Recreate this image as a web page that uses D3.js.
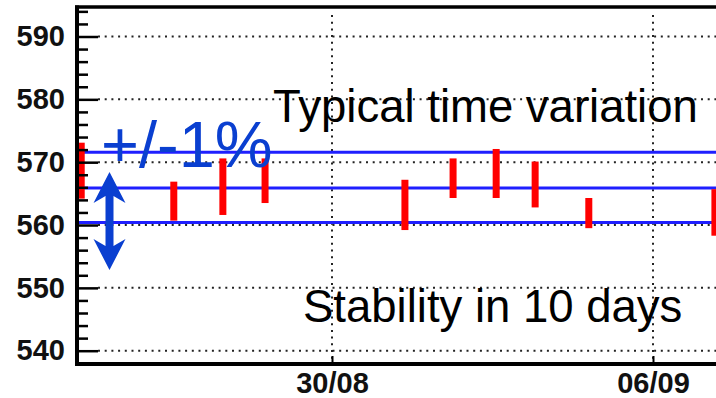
<!DOCTYPE html>
<html>
<head>
<meta charset="utf-8">
<script src="https://cdn.jsdelivr.net/npm/d3@7"></script>
<style>
html,body{margin:0;padding:0;background:#fff;}
svg{display:block;}
</style>
</head>
<body>
<svg id="chart" width="716" height="398"></svg>
<script>
// ---- data ----
const times = [
  "2008-08-24T12:45", "2008-08-26T13:12", "2008-08-27T14:53", "2008-08-28T12:58",
  "2008-08-31T14:10", "2008-09-01T15:22", "2008-09-02T13:55", "2008-09-03T10:19",
  "2008-09-04T14:24", "2008-09-07T08:24"
];
const highValues = [573.1, 566.9, 570.6, 570.6, 567.2, 570.6, 572.1, 570.1, 564.3, 565.7];
const lowValues  = [564.2, 560.7, 561.6, 563.5, 559.2, 564.3, 564.3, 562.8, 559.5, 558.3];
const bandLines = [571.6, 565.9, 560.4];
const yTickValues = [540, 550, 560, 570, 580, 590];
const xTickDates = ["2008-08-30T00:00", "2008-09-06T00:00"];
const xTickLabels = ["30/08", "06/09"];
const annotations = ["Typical time variation", "Stability in 10 days", "+/-1%"];

// ---- scales ----
const parse = d3.timeParse("%Y-%m-%dT%H:%M");
const svg = d3.select("#chart");
const pLeft = 77, pTop = 7, pBottom = 364, pRight = 740;

const x = d3.scaleTime()
  .domain(xTickDates.map(parse))
  .range([332, 653]);
const y = d3.scaleLinear()
  .domain([540, 590])
  .range([350.7, 36.5]);

const fontFam = "'Liberation Sans', Arial, Helvetica, sans-serif";

// ---- grid ----
const grid = svg.append("g").attr("stroke", "#222").attr("stroke-width", 2)
  .attr("stroke-dasharray", "2,4.7");
grid.selectAll("line.h").data(yTickValues).join("line")
  .attr("x1", pLeft + 21).attr("x2", pRight)
  .attr("y1", d => y(d)).attr("y2", d => y(d));
grid.selectAll("line.v").data(xTickDates.map(parse)).join("line")
  .attr("x1", d => x(d)).attr("x2", d => x(d))
  .attr("y1", pTop + 8).attr("y2", pBottom);

// ---- blue band lines ----
svg.append("g").selectAll("line").data(bandLines).join("line")
  .attr("x1", pLeft).attr("x2", pRight)
  .attr("y1", d => y(d)).attr("y2", d => y(d))
  .attr("stroke", "#1f1fff").attr("stroke-width", 3);

// ---- red bars ----
const pts = times.map((t, i) => ({t: parse(t), hi: highValues[i], lo: lowValues[i]}));
svg.append("g").selectAll("rect").data(pts).join("rect")
  .attr("x", d => x(d.t) - 3.5)
  .attr("width", 7)
  .attr("y", d => y(d.hi))
  .attr("height", d => y(d.lo) - y(d.hi))
  .attr("fill", "#ff0000");

// ---- y axis ----
const yMinor = d3.range(538, 595, 2).filter(v => v % 10 !== 0 && y(v) > pTop + 4 && y(v) < pBottom - 2);
const yMinorAxis = d3.axisLeft(y).tickValues(yMinor).tickSize(-11).tickFormat("");
svg.append("g").attr("transform", `translate(${pLeft},0)`).call(yMinorAxis)
  .call(g => g.select(".domain").remove())
  .call(g => g.selectAll("line").attr("stroke", "#000").attr("stroke-width", 2.5));

const yAxis = d3.axisLeft(y).tickValues(yTickValues).tickSize(-21).tickPadding(12).tickFormat(d3.format("d"));
svg.append("g").attr("transform", `translate(${pLeft},0)`).call(yAxis)
  .call(g => g.select(".domain").remove())
  .call(g => g.selectAll("line").attr("stroke", "#000").attr("stroke-width", 2.5))
  .call(g => g.selectAll("text").attr("font-family", fontFam).attr("font-weight", "bold")
    .attr("font-size", 29).attr("fill", "#111"));

// ---- x axis ----
const xAxis = d3.axisBottom(x).tickValues(xTickDates.map(parse)).tickSize(-8).tickPadding(8)
  .tickFormat((d, i) => xTickLabels[i]);
svg.append("g").attr("transform", `translate(0,${pBottom})`).call(xAxis)
  .call(g => g.select(".domain").remove())
  .call(g => g.selectAll("line").attr("stroke", "#000").attr("stroke-width", 2))
  .call(g => g.selectAll("text").attr("font-family", fontFam).attr("font-weight", "bold")
    .attr("font-size", 29).attr("fill", "#111").attr("dy", "0.71em"));

// ---- frame ----
svg.append("line").attr("x1", pLeft - 2).attr("x2", pRight).attr("y1", pTop).attr("y2", pTop)
  .attr("stroke", "#000").attr("stroke-width", 3.5);
svg.append("line").attr("x1", pLeft).attr("x2", pLeft).attr("y1", pTop - 1.5).attr("y2", pBottom + 2)
  .attr("stroke", "#000").attr("stroke-width", 4);
svg.append("line").attr("x1", pLeft - 2).attr("x2", pRight).attr("y1", pBottom).attr("y2", pBottom)
  .attr("stroke", "#000").attr("stroke-width", 4);

// ---- annotations ----
svg.append("text").attr("x", 273).attr("y", 122).text(annotations[0])
  .attr("font-family", fontFam).attr("font-size", 45.5).attr("fill", "#000");
svg.append("text").attr("x", 303).attr("y", 322).text(annotations[1])
  .attr("font-family", fontFam).attr("font-size", 45.5).attr("fill", "#000");
svg.append("text").attr("x", 101).attr("y", 167).text(annotations[2])
  .attr("font-family", fontFam).attr("font-size", 65).attr("fill", "#0a3fd0");

// ---- double arrow ----
const ax = 109.5, aTop = 172, aBot = 270;
const arrowPts = [
  [ax, aTop], [ax + 16, aTop + 31], [ax + 4, aTop + 24], [ax + 4, aBot - 24],
  [ax + 16, aBot - 31], [ax, aBot], [ax - 16, aBot - 31], [ax - 4, aBot - 24],
  [ax - 4, aTop + 24], [ax - 16, aTop + 31]
];
svg.append("path").attr("d", d3.line()(arrowPts) + "Z").attr("fill", "#0a3fd0");
</script>
</body>
</html>
